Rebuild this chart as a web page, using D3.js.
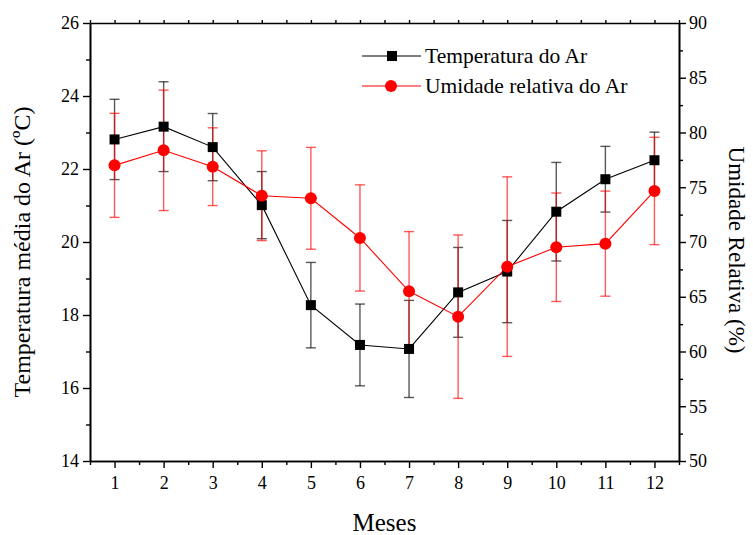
<!DOCTYPE html>
<html>
<head>
<meta charset="utf-8">
<script src="https://cdn.jsdelivr.net/npm/d3@7"></script>
<style>
  html, body { margin: 0; padding: 0; background: #fff; }
  svg { display: block; font-family: "Liberation Serif", "Times New Roman", serif; }
</style>
</head>
<body>
<svg id="chart" width="753" height="535"></svg>
<script>
// Monthly mean air temperature (°C) and relative humidity (%) with standard deviations
const months = [1, 2, 3, 4, 5, 6, 7, 8, 9, 10, 11, 12];
const tempMean = [22.81, 23.16, 22.60, 21.01, 18.27, 17.18, 17.07, 18.62, 19.19, 20.83, 21.72, 22.24];
const tempSd   = [1.10, 1.23, 0.92, 0.92, 1.17, 1.12, 1.33, 1.23, 1.40, 1.35, 0.90, 0.77];
const humMean  = [77.0, 78.37, 76.88, 74.23, 73.99, 70.37, 65.5, 63.18, 67.75, 69.52, 69.85, 74.66];
const humSd    = [4.75, 5.5, 3.55, 4.1, 4.65, 4.85, 5.45, 7.46, 8.2, 4.95, 4.8, 4.9];
const leftTicks  = [14, 16, 18, 20, 22, 24, 26];
const rightTicks = [50, 55, 60, 65, 70, 75, 80, 85, 90];
const seriesNames = ["Temperatura do Ar", "Umidade relativa do Ar"];

const svg = d3.select("#chart");
const m = { left: 90, right: 679, top: 23, bottom: 461 };

const x = d3.scaleLinear().domain([0.5, 12.5]).range([m.left, m.right]);
const yT = d3.scaleLinear().domain([14, 26]).range([m.bottom, m.top]);
const yH = d3.scaleLinear().domain([50, 90]).range([m.bottom, m.top]);

const tickFont = 18;

// Axes frame
function styleAxis(g) {
  g.selectAll("path.domain").attr("stroke", "#000").attr("stroke-width", 1.6);
  g.selectAll("line").attr("stroke", "#000").attr("stroke-width", 1.4);
  g.selectAll("text").attr("fill", "#000").attr("font-size", tickFont)
    .attr("font-family", '"Liberation Serif", serif');
}

// Bottom axis: major at each month, minor at half months
const xMinor = d3.range(0.5, 12.51, 0.5).filter(v => !Number.isInteger(v));
svg.append("g").attr("transform", `translate(0,${m.bottom})`)
  .call(d3.axisBottom(x).tickValues(xMinor).tickSize(4).tickFormat("").tickSizeOuter(0))
  .call(styleAxis);
svg.append("g").attr("transform", `translate(0,${m.bottom})`)
  .call(d3.axisBottom(x).tickValues(months).tickSize(7).tickPadding(8).tickFormat(d3.format("d")).tickSizeOuter(0))
  .call(styleAxis);

// Top axis (no labels)
svg.append("g").attr("transform", `translate(0,${m.top})`)
  .call(d3.axisTop(x).tickValues(d3.range(0.5, 12.51, 0.5)).tickSize(3).tickFormat("").tickSizeOuter(0))
  .call(styleAxis);

// Left axis (temperature)
const leftMinor = d3.range(15, 26, 2);
svg.append("g").attr("transform", `translate(${m.left},0)`)
  .call(d3.axisLeft(yT).tickValues(leftMinor).tickSize(4).tickFormat("").tickSizeOuter(0))
  .call(styleAxis);
svg.append("g").attr("transform", `translate(${m.left},0)`)
  .call(d3.axisLeft(yT).tickValues(leftTicks).tickSize(7).tickPadding(4).tickFormat(d3.format("d")).tickSizeOuter(0))
  .call(styleAxis);

// Right axis (humidity)
const rightMinor = d3.range(52.5, 90, 5);
svg.append("g").attr("transform", `translate(${m.right},0)`)
  .call(d3.axisRight(yH).tickValues(rightMinor).tickSize(4).tickFormat("").tickSizeOuter(0))
  .call(styleAxis);
svg.append("g").attr("transform", `translate(${m.right},0)`)
  .call(d3.axisRight(yH).tickValues(rightTicks).tickSize(7).tickPadding(3).tickFormat(d3.format("d")).tickSizeOuter(0))
  .call(styleAxis);

// Axis titles
svg.append("text")
  .attr("transform", `translate(30,252) rotate(-90)`)
  .attr("text-anchor", "middle").attr("font-size", 24)
  .text("Temperatura média do Ar (ºC)");
svg.append("text")
  .attr("transform", `translate(729,250) rotate(90)`)
  .attr("text-anchor", "middle").attr("font-size", 23)
  .text("Umidade Relativa (%)");
svg.append("text")
  .attr("x", (m.left + m.right) / 2).attr("y", 531)
  .attr("text-anchor", "middle").attr("font-size", 25)
  .text("Meses");

// Error bars
function errorBars(means, sds, yScale, color) {
  const g = svg.append("g").attr("stroke", color).attr("stroke-width", 1.4).attr("stroke-opacity", 0.65);
  months.forEach((mo, i) => {
    const cx = x(mo), hi = yScale(means[i] + sds[i]), lo = yScale(means[i] - sds[i]);
    g.append("line").attr("x1", cx).attr("x2", cx).attr("y1", hi).attr("y2", lo);
    g.append("line").attr("x1", cx - 5).attr("x2", cx + 5).attr("y1", hi).attr("y2", hi);
    g.append("line").attr("x1", cx - 5).attr("x2", cx + 5).attr("y1", lo).attr("y2", lo);
  });
}
errorBars(tempMean, tempSd, yT, "#000");
errorBars(humMean, humSd, yH, "#ff0000");

// Lines
const lineT = d3.line().x((d, i) => x(months[i])).y(d => yT(d));
const lineH = d3.line().x((d, i) => x(months[i])).y(d => yH(d));
svg.append("path").datum(tempMean).attr("d", lineT).attr("fill", "none").attr("stroke", "#000").attr("stroke-width", 1.1);
svg.append("path").datum(humMean).attr("d", lineH).attr("fill", "none").attr("stroke", "#ff0000").attr("stroke-width", 1.1);

// Markers
const sq = 10;
svg.append("g").selectAll("rect").data(tempMean).join("rect")
  .attr("x", (d, i) => x(months[i]) - sq / 2).attr("y", d => yT(d) - sq / 2)
  .attr("width", sq).attr("height", sq).attr("fill", "#000");
svg.append("g").selectAll("circle").data(humMean).join("circle")
  .attr("cx", (d, i) => x(months[i])).attr("cy", d => yH(d))
  .attr("r", 6).attr("fill", "#ff0000");

// Legend
const legend = svg.append("g");
const legendRows = [
  { name: seriesNames[0], color: "#000", shape: "square", y: 56 },
  { name: seriesNames[1], color: "#ff0000", shape: "circle", y: 86 }
];
legendRows.forEach(r => {
  legend.append("line").attr("x1", 362).attr("x2", 421).attr("y1", r.y).attr("y2", r.y)
    .attr("stroke", r.color).attr("stroke-width", 1.1);
  if (r.shape === "square") {
    legend.append("rect").attr("x", 392 - sq / 2).attr("y", r.y - sq / 2).attr("width", sq).attr("height", sq).attr("fill", r.color);
  } else {
    legend.append("circle").attr("cx", 391).attr("cy", r.y).attr("r", 6).attr("fill", r.color);
  }
  legend.append("text").attr("x", 425).attr("y", r.y + 7).attr("font-size", 21.5).text(r.name);
});
</script>
</body>
</html>
